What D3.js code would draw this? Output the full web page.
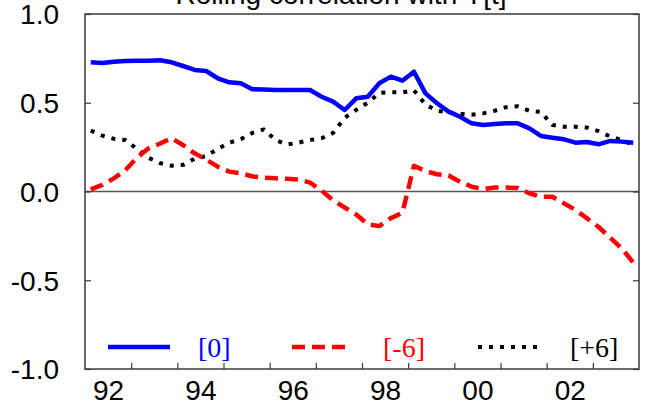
<!DOCTYPE html>
<html>
<head>
<meta charset="utf-8">
<script src="https://cdn.jsdelivr.net/npm/d3@7"></script>
<style>
  html, body { margin: 0; padding: 0; background: #fff; }
  svg { display: block; }
</style>
</head>
<body>
<svg id="chart" width="652" height="408"></svg>
<script>
// ---------- data ----------
const title = "Rolling correlation with Y[t]";
const quarters = [
  "1992Q1","1992Q2","1992Q3","1992Q4","1993Q1","1993Q2","1993Q3","1993Q4",
  "1994Q1","1994Q2","1994Q3","1994Q4","1995Q1","1995Q2","1995Q3","1995Q4",
  "1996Q1","1996Q2","1996Q3","1996Q4","1997Q1","1997Q2","1997Q3","1997Q4",
  "1998Q1","1998Q2","1998Q3","1998Q4","1999Q1","1999Q2","1999Q3","1999Q4",
  "2000Q1","2000Q2","2000Q3","2000Q4","2001Q1","2001Q2","2001Q3","2001Q4",
  "2002Q1","2002Q2","2002Q3","2002Q4","2003Q1","2003Q2","2003Q3","2003Q4"
];
const lag0 = [
  0.728,0.724,0.731,0.735,0.736,0.737,0.739,0.728,
  0.707,0.685,0.679,0.638,0.615,0.610,0.576,0.574,
  0.572,0.572,0.572,0.572,0.534,0.506,0.459,0.525,
  0.534,0.610,0.647,0.624,0.675,0.553,0.497,0.450,
  0.421,0.384,0.375,0.380,0.384,0.384,0.356,0.313,
  0.303,0.294,0.275,0.279,0.266,0.285,0.281,0.275
];
const lagMinus6 = [
  0.012,0.037,0.074,0.120,0.190,0.243,0.270,0.300,
  0.262,0.215,0.180,0.140,0.112,0.103,0.085,0.078,
  0.074,0.072,0.068,0.050,0.005,-0.050,-0.090,-0.130,
  -0.185,-0.195,-0.150,-0.120,0.145,0.115,0.097,0.090,
  0.055,0.027,0.014,0.022,0.022,0.020,-0.010,-0.030,
  -0.030,-0.067,-0.104,-0.151,-0.200,-0.260,-0.320,-0.400
];
const lagPlus6 = [
  0.343,0.315,0.297,0.290,0.240,0.190,0.160,0.145,
  0.150,0.185,0.200,0.240,0.275,0.295,0.330,0.350,
  0.290,0.265,0.275,0.290,0.300,0.330,0.415,0.460,
  0.500,0.555,0.560,0.558,0.570,0.490,0.455,0.445,
  0.438,0.432,0.440,0.455,0.475,0.480,0.455,0.448,
  0.375,0.365,0.365,0.360,0.340,0.310,0.290,0.262
];
const seriesNames = ["[0]", "[-6]", "[+6]"];
const yTickValues = [-1.0, -0.5, 0.0, 0.5, 1.0];
const yTickLabels = ["-1.0", "-0.5", "0.0", "0.5", "1.0"];
const yearTicks = [1993,1994,1995,1996,1997,1998,1999,2000,2001,2002,2003];
const xLabelYears = [1992, 1994, 1996, 1998, 2000, 2002];
const xTickLabels = ["92", "94", "96", "98", "00", "02"];

// ---------- layout ----------
const svg = d3.select("#chart");
const L = 85, R = 639, T = 14, B = 369;
const x = d3.scaleLinear().domain([1992, 2004]).range([L, R]);
const y = d3.scaleLinear().domain([-1, 1]).range([B, T]);
const qToYear = q => +q.slice(0, 4) + (+q.slice(5) - 1) * 0.25 + 0.125;

const sans = "'Liberation Sans', Arial, sans-serif";
const serif = "'Liberation Serif', 'Times New Roman', serif";
const frame = "#3a3a3a";

// title (partially clipped at top, as in reference)
svg.append("text")
  .attr("x", 341).attr("y", 4)
  .attr("text-anchor", "middle")
  .attr("font-family", sans).attr("font-size", 28)
  .text(title);

// zero line
svg.append("line")
  .attr("x1", L).attr("x2", R).attr("y1", y(0)).attr("y2", y(0))
  .attr("stroke", "#555").attr("stroke-width", 1.5);

// series
const specs = [
  { vals: lag0, color: "#0000ff", dash: null, width: 4.5 },
  { vals: lagMinus6, color: "#ff0000", dash: "13,7", width: 4.5 },
  { vals: lagPlus6, color: "#000000", dash: "4,7", width: 4 }
];
const line = d3.line().x(d => x(d[0])).y(d => y(d[1]));
const plotG = svg.append("g");
specs.slice().reverse().forEach(s => {
  plotG.append("path")
    .datum(quarters.map((q, i) => [qToYear(q), s.vals[i]]))
    .attr("d", line)
    .attr("fill", "none")
    .attr("stroke", s.color)
    .attr("stroke-width", s.width)
    .attr("stroke-linejoin", "round")
    .attr("stroke-dasharray", s.dash);
});

// frame
svg.append("rect")
  .attr("x", L).attr("y", T).attr("width", R - L).attr("height", B - T)
  .attr("fill", "none").attr("stroke", frame).attr("stroke-width", 1.5);

// x axis ticks (year boundaries, inside)
const xTicksAxis = d3.axisBottom(x).tickValues(yearTicks).tickSize(-6).tickFormat("");
const gx = svg.append("g").attr("transform", `translate(0,${B})`).call(xTicksAxis);
gx.select(".domain").remove();
gx.selectAll(".tick line").attr("stroke", frame).attr("stroke-width", 1.2);

// x labels at mid-year
const xLabAxis = d3.axisBottom(x)
  .tickValues(xLabelYears.map(v => v + 0.5))
  .tickSize(0).tickPadding(0)
  .tickFormat((d, i) => xTickLabels[i]);
const gxl = svg.append("g").attr("transform", `translate(0,${B})`).call(xLabAxis);
gxl.select(".domain").remove();
gxl.selectAll(".tick text")
  .attr("font-family", sans).attr("font-size", 28).attr("fill", "#000")
  .attr("dy", null).attr("y", 31);

// y axis left
const yAxis = d3.axisLeft(y).tickValues(yTickValues).tickSize(-6).tickPadding(26)
  .tickFormat((d, i) => yTickLabels[i]);
const gy = svg.append("g").attr("transform", `translate(${L},0)`).call(yAxis);
gy.select(".domain").remove();
gy.selectAll(".tick line").attr("stroke", frame).attr("stroke-width", 1.2);
gy.selectAll(".tick text")
  .attr("font-family", sans).attr("font-size", 28).attr("fill", "#000")
  .attr("dy", "0.35em");

// y axis right (ticks only)
const yAxisR = d3.axisRight(y).tickValues(yTickValues).tickSize(-6).tickFormat("");
const gyr = svg.append("g").attr("transform", `translate(${R},0)`).call(yAxisR);
gyr.select(".domain").remove();
gyr.selectAll(".tick line").attr("stroke", frame).attr("stroke-width", 1.2);

// legend
const legY = 347;
const legItems = [
  { x1: 108, x2: 170, tx: 198 },
  { x1: 292, x2: 346, tx: 383 },
  { x1: 478, x2: 540, tx: 570 }
];
legItems.forEach((it, i) => {
  const s = specs[i];
  svg.append("line")
    .attr("x1", it.x1).attr("x2", it.x2).attr("y1", legY).attr("y2", legY)
    .attr("stroke", s.color).attr("stroke-width", s.width)
    .attr("stroke-dasharray", s.dash);
  svg.append("text")
    .attr("x", it.tx).attr("y", legY + 10)
    .attr("font-family", serif).attr("font-size", 28)
    .attr("fill", s.color)
    .text(seriesNames[i]);
});
</script>
</body>
</html>
